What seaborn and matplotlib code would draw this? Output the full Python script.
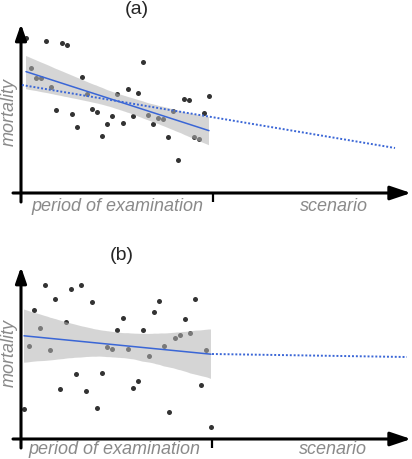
import numpy as np
import pandas as pd
import matplotlib
matplotlib.use("Agg")
import matplotlib.pyplot as plt
import seaborn as sns
from matplotlib.collections import PolyCollection

# ---------------- data ----------------
# panel (a): observations during the period of examination
a_time = list(range(37))
a_mortality = [15.5, 12.5, 11.5, 11.5, 15.2, 10.6, 8.3, 15.0, 14.8, 7.9,
               6.6, 11.6, 9.9, 8.4, 8.1, 5.7, 6.9, 7.7, 9.9, 7.0,
               10.4, 7.7, 10.0, 13.1, 7.8, 6.9, 7.5, 7.4, 5.6, 8.2,
               3.3, 9.4, 9.3, 5.6, 5.4, 8.0, 9.7]
# panel (a): long-term scenario trend (dotted)
a_scenario_time = [-0.8, 72.6]
a_scenario_mortality = [10.8, 4.5]

# panel (b): observations during the period of examination
b_time = list(range(37))
b_mortality = [3.0, 9.3, 12.9, 11.1, 15.4, 8.9, 14.0, 5.0, 11.7, 15.0,
               6.5, 15.4, 4.8, 13.7, 3.1, 6.6, 9.2, 9.0, 10.9, 12.1,
               9.0, 5.1, 5.8, 10.9, 8.3, 12.7, 13.8, 9.3, 2.7, 10.1,
               10.4, 12.0, 10.6, 14.0, 5.4, 8.9, 1.2]
# panel (b): scenario trend (dotted)
b_scenario_time = [36.2, 73.7]
b_scenario_mortality = [8.5, 8.2]

titles = ["(a)", "(b)"]
ylabel = "mortality"
xlabel_period = "period of examination"
xlabel_scenario = "scenario"

# ---------------- style ----------------
sns.set_style("white")
plt.rcParams["font.family"] = ["Liberation Sans", "DejaVu Sans"]

W, H = 412, 459
fig = plt.figure(figsize=(W / 100, H / 100), dpi=100)

BLUE = "#3a66d6"
GREY = "#8a8a8a"


def fpx(x, y):
    return x / W, 1 - y / H


def panel(rect, t, m, xlim, ylim):
    ax = fig.add_axes(rect)
    df = pd.DataFrame({"time": t, "mortality": m})
    sns.regplot(data=df, x="time", y="mortality", ax=ax, ci=95, n_boot=2000,
                seed=3, color=BLUE,
                scatter_kws=dict(color="black", s=13, linewidths=0, zorder=5),
                line_kws=dict(color=BLUE, lw=1.1, zorder=7))
    for c in ax.collections:
        if isinstance(c, PolyCollection):
            c.set_facecolor("#b4b4b4")
            c.set_alpha(0.55)
            c.set_zorder(6)
            c.set_edgecolor("none")
    ax.set_xlim(*xlim)
    ax.set_ylim(*ylim)
    ax.axis("off")
    return ax


def axes_arrows(ax, y0, y_top, y_bot, x_left, x_axis0, x_end, x_tick):
    up = dict(arrowstyle="-|>,head_length=0.95,head_width=0.33",
              color="black", lw=2.2, mutation_scale=10, shrinkA=0, shrinkB=0)
    right = dict(arrowstyle="-|>,head_length=1.25,head_width=0.42",
                 color="black", lw=2.2, mutation_scale=10, shrinkA=0,
                 shrinkB=0)
    ax.annotate("", xy=(x_axis0, y_top), xytext=(x_axis0, y_bot),
                arrowprops=up, annotation_clip=False, zorder=2)
    ax.annotate("", xy=(x_end, y0), xytext=(x_left, y0),
                arrowprops=right, annotation_clip=False, zorder=2)
    ax.plot([x_tick, x_tick], [y0, y_bot], color="black", lw=1.6,
            solid_capstyle="butt", clip_on=False)


# panel (a): pixel x = 26 + 5.083*i ; value = (193 - py)/10
sx_a, x0_a = 5.083, 26
axA = panel([0, 0.5, 1, 0.5], a_time, a_mortality,
            ((0 - x0_a) / sx_a, (W - x0_a) / sx_a),
            ((193 - 229.5) / 10, (193 - 0) / 10))
sns.lineplot(x=a_scenario_time, y=a_scenario_mortality, ax=axA, color=BLUE,
             lw=1.4, linestyle=(0, (1, 1)), zorder=7)
axes_arrows(axA, 0, (193 - 24) / 10, (193 - 202) / 10,
            (13 - x0_a) / sx_a, (21 - x0_a) / sx_a, (411 - x0_a) / sx_a,
            (213 - x0_a) / sx_a)

# panel (b): pixel x = 24 + 5.194*i ; value = (439 - py)/10
sx_b, x0_b = 5.194, 24
axB = panel([0, 0, 1, 0.5], b_time, b_mortality,
            ((0 - x0_b) / sx_b, (W - x0_b) / sx_b),
            ((439 - 459) / 10, (439 - 229.5) / 10))
sns.lineplot(x=b_scenario_time, y=b_scenario_mortality, ax=axB, color=BLUE,
             lw=1.4, linestyle=(0, (1, 1)), zorder=7)
axes_arrows(axB, 0, (439 - 267) / 10, (439 - 448) / 10,
            (13 - x0_b) / sx_b, (21 - x0_b) / sx_b, (411 - x0_b) / sx_b,
            (212 - x0_b) / sx_b)

# ---------------- texts ----------------
lab = dict(color=GREY, style="italic", fontsize=13, ha="center", va="center")
fig.text(*fpx(137, 9), titles[0], fontsize=14, ha="center", va="center")
fig.text(*fpx(122, 255), titles[1], fontsize=14, ha="center", va="center")
fig.text(*fpx(9, 112), ylabel, rotation=90, **lab)
fig.text(*fpx(9, 353), ylabel, rotation=90, **lab)
fig.text(*fpx(117, 206), xlabel_period, **lab)
fig.text(*fpx(114, 450), xlabel_period, **lab)
fig.text(*fpx(334, 206), xlabel_scenario, **lab)
fig.text(*fpx(333, 450), xlabel_scenario, **lab)

fig.savefig("out.png", dpi=100)
